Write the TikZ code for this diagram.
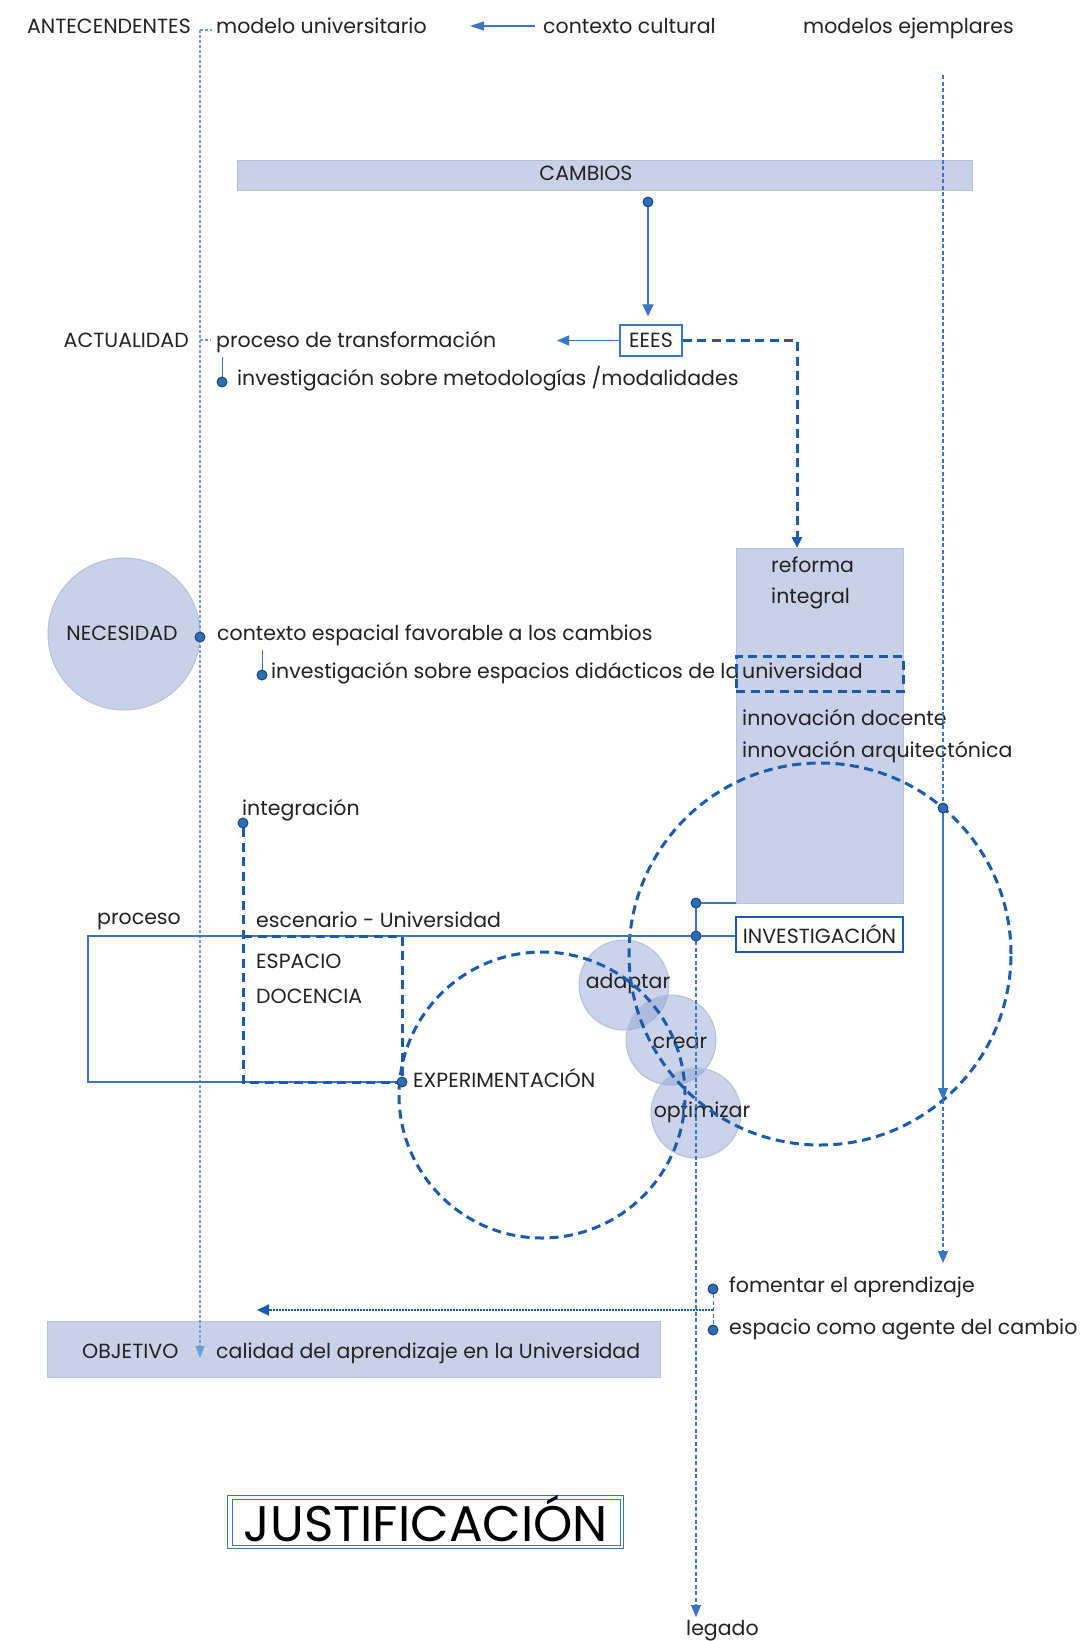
\documentclass[tikz,border=0pt]{standalone}
\usepackage{fontspec}
\setmainfont{Poppins}
\usetikzlibrary{arrows.meta}

\definecolor{lav}{HTML}{C9D1E9}
\definecolor{lavedge}{HTML}{B5BFDE}
\definecolor{lavdisc}{HTML}{8C9ED2}
\definecolor{bl}{HTML}{1B5BAB}
\definecolor{blthin}{HTML}{3A76C2}
\definecolor{bllight}{HTML}{6C9BD5}
\definecolor{dotfill}{HTML}{2F6DB5}
\definecolor{dotedge}{HTML}{1C4677}
\definecolor{ink}{HTML}{222222}

\tikzset{
  txt/.style={font=\fontsize{20.5}{24}\selectfont, text=ink, inner sep=0pt, anchor=base west},
  txtr/.style={txt, anchor=base east},
  txtc/.style={txt, anchor=base},
  lavfill/.style={fill=lav, draw=lavedge, line width=1pt, inner sep=0pt},
  disc/.style={circle, fill=lavdisc, fill opacity=0.45, draw=lavedge, line width=1pt, minimum size=90pt, inner sep=0pt},
  thinln/.style={draw=blthin, line width=1.2pt},
  thickdash/.style={draw=bl, line width=3pt, dash pattern=on 9pt off 5.5pt},
  dotln/.style={draw=bllight, line width=1.2pt, dash pattern=on 3pt off 2pt},
  fineln/.style={draw=blthin, line width=1.2pt, dash pattern=on 4pt off 2.5pt},
  denseln/.style={draw=bl, line width=2pt, dash pattern=on 1.6pt off 1.4pt},
  dotnode/.style={circle, fill=dotfill, draw=dotedge, line width=0.8pt, minimum size=10pt, inner sep=0pt},
}

\begin{document}
\begin{tikzpicture}[x=1pt,y=-1pt]
\useasboundingbox (0,0) rectangle (1091,1641);
\fill[white] (0,0) rectangle (1091,1641);

% filled panels and discs
\node[lavfill, rectangle, minimum width=735pt, minimum height=30pt] (cambiosbar) at (604.5,175) {};
\node[lavfill, rectangle, minimum width=167pt, minimum height=355pt] (reforma) at (819.5,725.5) {};
\node[lavfill, rectangle, minimum width=613pt, minimum height=56pt] (objbox) at (353.5,1349) {};
\node[lavfill, circle, minimum size=152pt] (necesidad) at (124,634) {};

\node[disc] (adaptar) at (624,985) {};
\node[disc] (crear) at (671,1040) {};
\node[disc] (optimizar) at (696,1113) {};

% texts
\node[txtr] (ant) at (191,33) {ANTECENDENTES};
\node[txt] (modelo) at (216,33) {modelo universitario};
\node[txt] (ctx) at (543,33) {contexto cultural};
\node[txt] (ejem) at (803,33) {modelos ejemplares};

\node[txtc] (cambios) at (586,180) {CAMBIOS};

\node[txtr] (act) at (189,347) {ACTUALIDAD};
\node[txt] (proc) at (216,347) {proceso de transformación};
\node[draw=blthin, line width=1.3pt, minimum width=62pt, minimum height=31pt, inner sep=0pt,
      font=\fontsize{20.5}{24}\selectfont, text=ink] (eees) at (651,340.5) {EEES};
\node[txt] (metod) at (237,385) {investigación sobre metodologías /modalidades};

\node[txtc] (necesidadtxt) at (122,640) {NECESIDAD};
\node[txt] (ctxesp) at (217,640) {contexto espacial favorable a los cambios};
\node[txt] (espdid) at (271,678) {investigación sobre espacios didácticos de la};
\node[txt] (univ) at (742,678) {universidad};

\node[txt] (reftxt) at (771,572) {reforma};
\node[txt] (inttxt) at (771,603) {integral};
\node[txt] (innodoc) at (742,725) {innovación docente};
\node[txt] (innoarq) at (742,757) {innovación arquitectónica};

\node[draw=bl, line width=2.4pt, minimum width=167pt, minimum height=35pt, inner sep=0pt,
      font=\fontsize{20.5}{24}\selectfont, text=ink] (investig) at (819.5,934.5) {INVESTIGACIÓN};

\node[txt] (integ) at (242,815) {integración};
\node[txt] (proceso) at (97,924) {proceso};
\node[txt] (escen) at (256,927) {escenario - Universidad};
\node[txt] (espacio) at (256,968) {ESPACIO};
\node[txt] (docencia) at (256,1003) {DOCENCIA};
\node[txt] (exper) at (413,1087) {EXPERIMENTACIÓN};

\node[txtc] (adaptxt) at (628,988) {adaptar};
\node[txtc] (creatxt) at (680,1048) {crear};
\node[txtc] (optitxt) at (702,1117) {optimizar};

\node[txt] (fomentar) at (729,1292) {fomentar el aprendizaje};
\node[txt] (agente) at (729,1334) {espacio como agente del cambio};
\node[txt] (objetivo) at (82,1358) {OBJETIVO};
\node[txt] (calidad) at (216,1358) {calidad del aprendizaje en la Universidad};
\node[txt] (legado) at (686,1635) {legado};

% title frame
\node[draw=blthin, line width=1pt, minimum width=395.5pt, minimum height=53pt, inner sep=0pt] (justout) at (425.25,1521.5) {};
\node[draw=blthin, line width=0.8pt, minimum width=387.5pt, minimum height=46pt, inner sep=0pt] (justin) at (426.25,1522) {};
\node[font=\fontsize{50}{60}\selectfont, text=black, anchor=base, inner sep=0pt] (just) at (426,1541) {JUSTIFICACIÓN};

% dashed cycles
\node[thickdash, circle, minimum size=382pt, inner sep=0pt] (ciclo) at (820,954) {};
\node[thickdash, circle, minimum size=286pt, inner sep=0pt] (cicloexp) at (542,1095) {};

% anchor points
\coordinate (antTop) at (200,30);
\coordinate (antDash) at (212,30);
\coordinate (actL) at (200,340);
\coordinate (actR) at (211,340);
\coordinate (objTip) at (200,1358);
\coordinate (ctxS) at (535,26);
\coordinate (ctxE) at (470,26);
\coordinate (eeesTip) at (557,340.5);
\coordinate (refIn) at (797,548);
\coordinate (procStem) at (222,357);
\coordinate (ctxStem) at (262,650);
\coordinate (ejTop) at (943,75);
\coordinate (ejMid) at (943,1100);
\coordinate (ejEnd) at (943,1263);
\coordinate (boxTL) at (243,936);
\coordinate (boxTR) at (402,936);
\coordinate (boxBL) at (243,1082);
\coordinate (loopTL) at (88,936);
\coordinate (loopBL) at (88,1082);
\coordinate (legTip) at (696,1617);
\coordinate (objArr) at (713,1310);
\coordinate (objArrTip) at (257,1310);

% dots
\node[dotnode] (dCamb) at (648,202) {};
\node[dotnode] (dMet) at (222,382) {};
\node[dotnode] (dNec) at (200,637) {};
\node[dotnode] (dEsp) at (262,675) {};
\node[dotnode] (dEj) at (943,808) {};
\node[dotnode] (dInt) at (243,823) {};
\node[dotnode] (dExp) at (402,1082) {};
\node[dotnode] (dRef) at (696,903) {};
\node[dotnode] (dInv) at (696,936) {};
\node[dotnode] (dFom) at (713,1289) {};
\node[dotnode] (dAge) at (713,1330) {};

% connectors
\draw[dotln] (antTop) -- (antDash);
\draw[dotln, -{Triangle[length=12pt,width=9pt]}] (antTop) -- (objTip);
\draw[dotln] (actL) -- (actR);
\draw[thinln, -{Triangle[length=14pt,width=9pt]}] (ctxS) -- (ctxE);

\draw[thinln, shorten >=8pt, -{Triangle[length=12pt,width=11pt]}] (dCamb) -- (dCamb |- eees.north);
\draw[thinln, -{Triangle[length=12pt,width=10pt]}] (eees.west) -- (eeesTip);
\draw[thickdash, -{Triangle[length=11pt,width=10pt]}] (eees.east) -| (refIn);
\node[thickdash, rectangle, minimum width=167pt, minimum height=35pt, inner sep=0pt] (univbox) at (819.5,673.5) {};

\draw[thinln, line width=0.9pt] (procStem) -- (dMet);
\draw[thinln, line width=0.9pt] (ctxStem) -- (dEsp);

\draw[fineln] (ejTop) -- (dEj);
\draw[thinln, -{Triangle[length=12pt,width=10pt]}] (dEj) -- (ejMid);
\draw[fineln, -{Triangle[length=12pt,width=10pt]}] (ejMid) -- (ejEnd);

\draw[thinln] (investig.west |- dInv) -- (dInv) -- (loopTL) -- (loopBL) -- (dExp);
\draw[thinln] (dRef) -- (reforma.west |- dRef);
\draw[thinln] (dRef) -- (dInv);
\draw[thickdash] (dInt) -- (boxBL) -- (dExp);
\draw[thickdash] (boxTL) -- (boxTR) -- (dExp);
\draw[fineln, -{Triangle[length=12pt,width=10pt]}] (dInv) -- (legTip);

\draw[fineln, line width=0.9pt] (dFom) -- (dAge);
\draw[denseln, -{Triangle[length=12pt,width=11pt]}] (objArr) -- (objArrTip);

% redraw dots above lines
\foreach \d in {dCamb,dMet,dNec,dEsp,dEj,dInt,dExp,dRef,dInv,dFom,dAge}
  \fill[dotfill, draw=dotedge, line width=0.8pt] (\d) circle[radius=4.8pt];
\end{tikzpicture}
\end{document}
